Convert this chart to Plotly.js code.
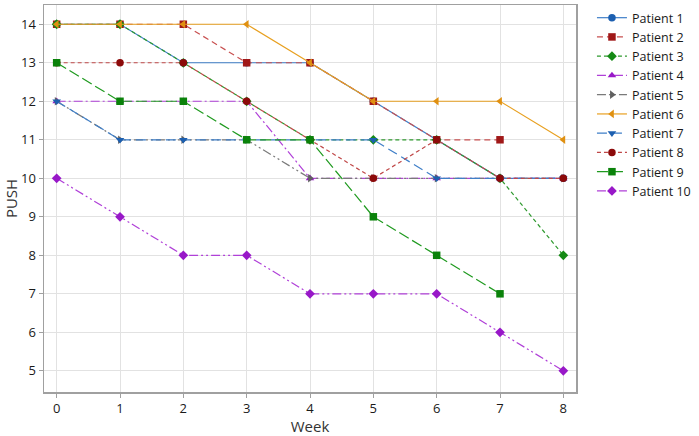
<!DOCTYPE html>
<html>
<head>
<meta charset="utf-8">
<script src="https://cdn.plot.ly/plotly-3.0.1.min.js"></script>
<style>
  html, body { margin: 0; padding: 0; background: #fff; }
  #chart { width: 699px; height: 436px; }
</style>
</head>
<body>
<div id="chart"></div>
<script>
/* PUSH score by week, one line per patient */

const weeks = [0, 1, 2, 3, 4, 5, 6, 7, 8];

const patientNames = ['Patient 1', 'Patient 2', 'Patient 3', 'Patient 4', 'Patient 5',
  'Patient 6', 'Patient 7', 'Patient 8', 'Patient 9', 'Patient 10'];

const p1 = [14, 14, 13, 13, 13, 12, 11, 10, 10];
const p2 = [14, 14, 14, 13, 13, 12, 11, 11];
const p3 = [14, 14, 13, 12, 11, 11, 11, 10, 8];
const p4 = [12, 12, 12, 12, 10, 10, 10, 10, 10];
const p5 = [12, 11, 11, 11, 10, 10, 10, 10, 10];
const p6 = [14, 14, 14, 14, 13, 12, 12, 12, 11];
const p7 = [12, 11, 11, 11, 11, 11, 10, 10, 10];
const p8 = [13, 13, 13, 12, 11, 10, 11, 10, 10];
const p9 = [13, 12, 12, 11, 11, 9, 8, 7];
const p10 = [10, 9, 8, 8, 7, 7, 7, 6, 5];

const yTicks = [5, 6, 7, 8, 9, 10, 11, 12, 13, 14];

const series = [p1, p2, p3, p4, p5, p6, p7, p8, p9, p10];

// style per patient: line colour, marker colour, dash, symbol
const STYLES = [
  { line: '#3f7fc8', mark: '#1c5fb0', dash: 'solid', sym: 'circle' },
  { line: '#c85050', mark: '#a01818', dash: '6px,4px', sym: 'square' },
  { line: '#2f9a2f', mark: '#158a15', dash: '4px,3px', sym: 'diamond' },
  { line: '#b040d8', mark: '#9818c8', dash: '9px,3px,2px,3px', sym: 'triangle-up' },
  { line: '#7a7a7a', mark: '#606060', dash: '9px,3px,2px,3px,2px,3px', sym: 'triangle-right' },
  { line: '#e8a020', mark: '#e09010', dash: 'solid', sym: 'triangle-left' },
  { line: '#3f7fc8', mark: '#1c5fb0', dash: '10px,5px', sym: 'triangle-down' },
  { line: '#c04848', mark: '#8c0a0a', dash: '4px,3px', sym: 'circle' },
  { line: '#1f9a1f', mark: '#0a820a', dash: '11px,4px', sym: 'square' },
  { line: '#b040d8', mark: '#9818c8', dash: '9px,3px,2px,3px,2px,3px', sym: 'diamond' },
];

const traces = series.map((ys, i) => ({
  type: 'scatter', mode: 'lines+markers', name: patientNames[i],
  x: weeks.slice(0, ys.length), y: ys,
  line: { color: STYLES[i].line, width: 1.2, dash: STYLES[i].dash },
  marker: { color: STYLES[i].mark, symbol: STYLES[i].sym, size: 7.5 },
}));

const axis = {
  showgrid: true, gridcolor: '#e2e2e2', gridwidth: 1,
  zeroline: false, showline: true, linecolor: '#a0a0a0', linewidth: 1.5,
  mirror: true, ticks: 'outside', ticklen: 4, tickcolor: '#a0a0a0',
  tickfont: { size: 13, color: '#1a1a1a' },
};

const layout = {
  width: 699, height: 436,
  paper_bgcolor: '#fff', plot_bgcolor: '#fff',
  font: { family: '"Open Sans", "Noto Sans", sans-serif', color: '#222', size: 13 },
  margin: { l: 44, r: 117, t: 3, b: 44 },
  xaxis: Object.assign({}, axis, {
    range: [-0.2, 8.2], tickvals: weeks,
    title: { text: 'Week', font: { size: 15, color: '#333' }, standoff: 6 },
  }),
  yaxis: Object.assign({}, axis, {
    range: [4.45, 14.5], tickvals: yTicks,
    title: { text: 'PUSH', font: { size: 15, color: '#333' }, standoff: 0 },
  }),
  legend: {
    x: 1.03, xanchor: 'left', y: 1.005, yanchor: 'top',
    font: { size: 12.5, color: '#1a1a1a' }, tracegroupgap: 0,
    bgcolor: 'rgba(0,0,0,0)',
  },
  showlegend: true,
};

Plotly.newPlot('chart', traces, layout, { displayModeBar: false, staticPlot: true });
</script>
</body>
</html>
